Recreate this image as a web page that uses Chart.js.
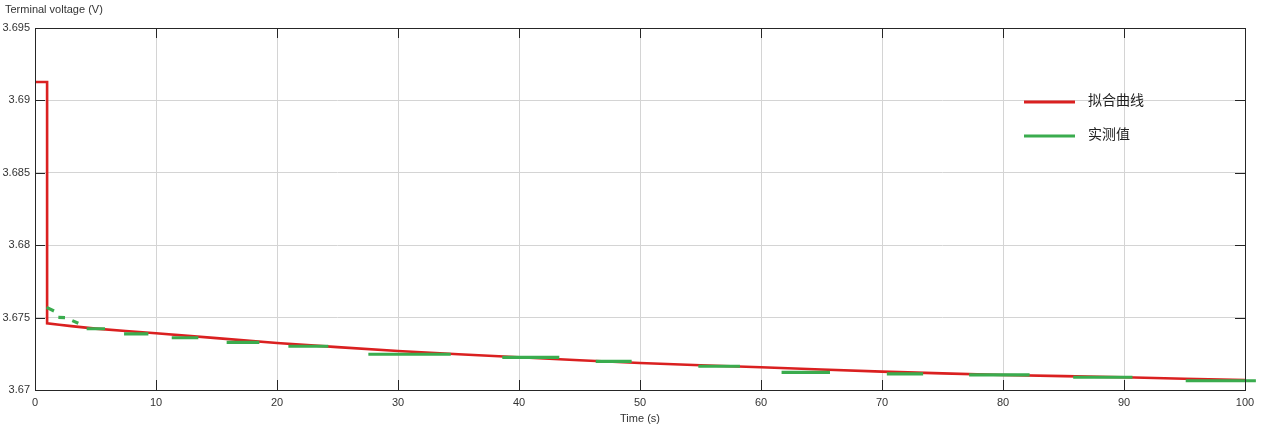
<!DOCTYPE html>
<html>
<head>
<meta charset="utf-8">
<title>Terminal voltage</title>
<script src="https://cdn.jsdelivr.net/npm/chart.js@4.4.0/dist/chart.umd.min.js"></script>
<style>
  html, body { margin: 0; padding: 0; background: #fff; }
</style>
</head>
<body>
<canvas id="chart1" width="1269" height="438"></canvas>
<script>
// axis ticks
const xTicks = [0, 10, 20, 30, 40, 50, 60, 70, 80, 90, 100];
const yTicks = [3.67, 3.675, 3.68, 3.685, 3.69, 3.695];

// fitted curve (拟合曲线)
const fitT = [0, 1, 1, 2, 3, 5, 7.5, 10, 15, 20, 25, 30, 35, 40, 45, 50, 55, 60, 65, 70, 75, 80, 85, 90, 95, 100];
const fitV = [3.69127, 3.69127, 3.67461, 3.67451, 3.67441, 3.67424, 3.67407, 3.67392, 3.67358, 3.67325,
              3.67296, 3.67269, 3.67247, 3.67226, 3.67205, 3.67186, 3.67171, 3.67157, 3.67142, 3.67127,
              3.67115, 3.67104, 3.67096, 3.67088, 3.67078, 3.67069];

// measured value pieces (实测值): start time, end time, start value, end value
const measT0 = [0.96, 1.93, 3.08, 4.27, 7.36, 11.3, 15.84, 20.94, 27.55, 38.62, 46.34, 54.82, 61.7, 70.4, 77.2, 85.8, 95.1];
const measT1 = [1.57, 2.48, 3.58, 5.79, 9.37, 13.5, 18.54, 24.24, 34.36, 43.33, 49.31, 58.26, 65.7, 73.4, 82.2, 90.7, 100.9];
const measV0 = [3.67571, 3.67502, 3.67479, 3.67423, 3.67387, 3.67361, 3.67329, 3.67302, 3.67247, 3.67226,
                3.67198, 3.67164, 3.67122, 3.67111, 3.67104, 3.67088, 3.67064];
const measV1 = [3.67546, 3.67500, 3.67461, 3.67423, 3.67387, 3.67361, 3.67329, 3.67302, 3.67247, 3.67226,
                3.67198, 3.67164, 3.67122, 3.67111, 3.67104, 3.67088, 3.67064];

const fitData = fitT.map((t, i) => ({x: t, y: fitV[i]}));
const measData = [];
measT0.forEach((t, i) => {
  measData.push({x: t, y: measV0[i]});
  measData.push({x: measT1[i], y: measV1[i]});
  measData.push({x: measT1[i], y: null});
});

const RED = 'rgb(218, 32, 32)';
const GREEN = 'rgb(58, 172, 78)';
const FONT = '"Liberation Sans", Arial, sans-serif';

// box, inward tick marks, y title and legend, drawn over the lines
const framePlugin = {
  id: 'frame',
  afterDatasetsDraw(chart) {
    const {ctx, chartArea: a, scales: {x, y}} = chart;
    ctx.save();
    ctx.strokeStyle = '#262626';
    ctx.lineWidth = 1;
    ctx.beginPath();
    xTicks.forEach(t => {
      const px = Math.round(x.getPixelForValue(t)) + 0.5;
      ctx.moveTo(px, a.bottom); ctx.lineTo(px, a.bottom - 10);
      ctx.moveTo(px, a.top); ctx.lineTo(px, a.top + 10);
    });
    yTicks.forEach(v => {
      const py = Math.round(y.getPixelForValue(v)) + 0.5;
      ctx.moveTo(a.left, py); ctx.lineTo(a.left + 10, py);
      ctx.moveTo(a.right, py); ctx.lineTo(a.right - 10, py);
    });
    ctx.stroke();
    ctx.strokeRect(Math.round(a.left) + 0.5, Math.round(a.top) + 0.5, Math.round(a.width), Math.round(a.height));

    ctx.fillStyle = '#333';
    ctx.font = '11px ' + FONT;
    ctx.textBaseline = 'middle';
    ctx.textAlign = 'left';
    ctx.fillText('Terminal voltage (V)', 5, 10);

    // legend
    const items = [
      {label: chart.data.datasets[0].label, color: RED, y: 102},
      {label: chart.data.datasets[1].label, color: GREEN, y: 136}
    ];
    ctx.lineWidth = 3;
    ctx.font = '14px "Noto Sans CJK SC", sans-serif';
    ctx.fillStyle = '#222';
    items.forEach(it => {
      ctx.strokeStyle = it.color;
      ctx.beginPath();
      ctx.moveTo(1024, it.y); ctx.lineTo(1075, it.y);
      ctx.stroke();
      ctx.fillText(it.label, 1088, it.y - 2);
    });
    ctx.restore();
  }
};

new Chart(document.getElementById('chart1'), {
  type: 'line',
  data: {
    datasets: [{
      label: '拟合曲线',
      data: fitData,
      borderColor: RED,
      borderWidth: 2.6,
      pointRadius: 0,
      order: 1,
      tension: 0
    }, {
      label: '实测值',
      data: measData,
      borderColor: GREEN,
      borderWidth: 3.2,
      pointRadius: 0,
      spanGaps: false,
      clip: false,
      order: 0,
      tension: 0
    }]
  },
  options: {
    responsive: false,
    animation: false,
    layout: { padding: { top: 28, right: 24, left: 0, bottom: 0 } },
    plugins: {
      legend: { display: false },
      tooltip: { enabled: false }
    },
    scales: {
      x: {
        type: 'linear',
        min: 0,
        max: 100,
        afterFit: s => { s.height = 48; },
        afterBuildTicks: s => { s.ticks = xTicks.map(v => ({value: v})); },
        grid: { color: '#d4d4d4', drawTicks: false },
        border: { display: false },
        ticks: { color: '#333', font: { size: 11, family: FONT }, padding: 6, maxRotation: 0 },
        title: { display: true, text: 'Time (s)', color: '#333', font: { size: 11, family: FONT }, padding: { top: 0, bottom: 12 } }
      },
      y: {
        min: 3.67,
        max: 3.695,
        afterFit: s => { s.width = 35; },
        afterBuildTicks: s => { s.ticks = yTicks.map(v => ({value: v})); },
        grid: { color: '#d4d4d4', drawTicks: false },
        border: { display: false },
        ticks: { color: '#333', font: { size: 11, family: FONT }, padding: 5, callback: v => String(+v.toFixed(3)) }
      }
    }
  },
  plugins: [framePlugin]
});
</script>
</body>
</html>
